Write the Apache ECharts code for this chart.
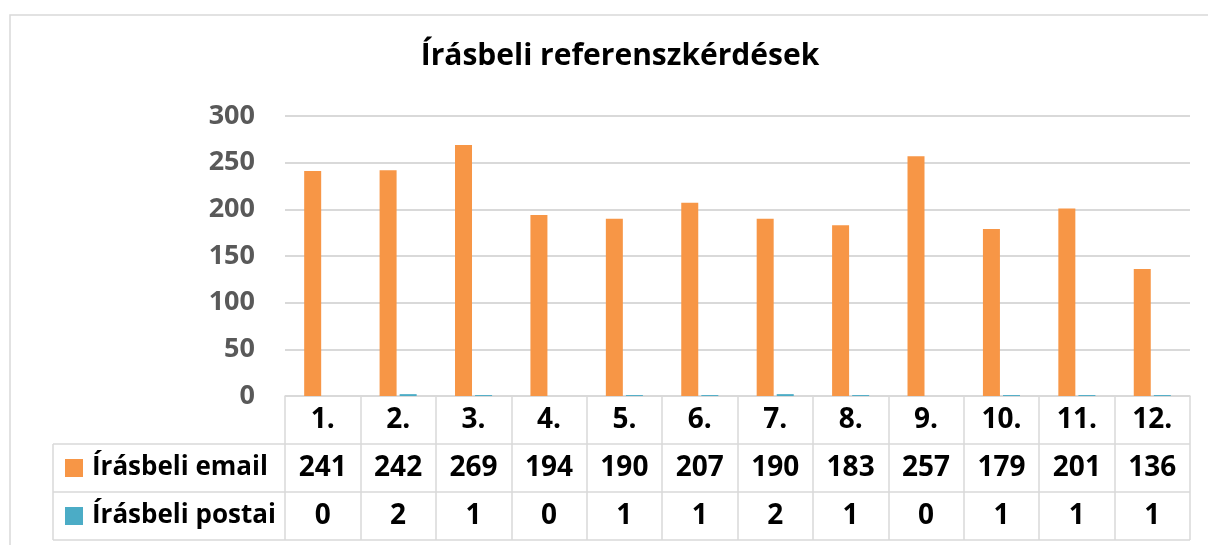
<!DOCTYPE html>
<html>
<head>
<meta charset="utf-8">
<title>Írásbeli referenszkérdések</title>
<script src="https://cdn.jsdelivr.net/npm/echarts@6/dist/echarts.min.js"></script>
<style>
  html, body { margin: 0; padding: 0; background: #fff; }
  #chart { width: 1208px; height: 545px; }
</style>
</head>
<body>
<div id="chart"></div>
<script>
// Monthly written reference questions, email vs. postal

const months = ['1.', '2.', '3.', '4.', '5.', '6.', '7.', '8.', '9.', '10.', '11.', '12.'];
const emailValues = [241, 242, 269, 194, 190, 207, 190, 183, 257, 179, 201, 136];
const postalValues = [0, 2, 1, 0, 1, 1, 2, 1, 0, 1, 1, 1];
const seriesNames = ['Írásbeli email', 'Írásbeli postai'];
const yTicks = { min: 0, max: 300, interval: 50 };

(function () {
  const el = document.getElementById('chart');
  const chart = echarts.init(el);

  const font = '"Open Sans", "DejaVu Sans", sans-serif';
  const gridColor = '#d9d9d9';

  // table geometry (px) - rows under the plot
  const plotLeft = 285, plotRight = 1190, axisY = 396, rowH = 48, tableLeft = 53;

  const tableLines = [];
  [axisY + rowH, axisY + 2 * rowH, axisY + 3 * rowH].forEach(y => {
    tableLines.push({ type: 'line', shape: { x1: tableLeft, y1: y, x2: plotRight, y2: y },
      style: { stroke: gridColor, lineWidth: 1.5 }, silent: true });
  });
  tableLines.push({ type: 'line', shape: { x1: tableLeft, y1: axisY + rowH, x2: tableLeft, y2: axisY + 3 * rowH },
    style: { stroke: gridColor, lineWidth: 1.5 }, silent: true });

  const cellText = { fontFamily: font, fontSize: 28, fontWeight: 'bold', color: '#000', lineHeight: rowH, height: rowH, verticalAlign: 'middle' };

  const option = {
    backgroundColor: '#fff',
    animation: false,
    title: {
      text: 'Írásbeli referenszkérdések',
      left: 615,
      top: 36,
      textAlign: 'center',
      textStyle: { fontFamily: font, fontSize: 30, fontWeight: 'bold', color: '#000' }
    },
    legend: {
      orient: 'vertical',
      left: 65,
      top: axisY + rowH,
      padding: 0,
      itemGap: 0,
      itemWidth: 18,
      itemHeight: 18,
      icon: 'rect',
      selectedMode: false,
      textStyle: { fontFamily: font, fontSize: 26, fontWeight: 'bold', color: '#000', lineHeight: rowH, padding: [0, 0, 0, 4] }
    },
    grid: {
      left: plotLeft,
      right: 1208 - plotRight,
      top: 116,
      bottom: 545 - axisY,
      containLabel: false
    },
    xAxis: {
      type: 'category',
      data: months,
      axisLine: { show: true, lineStyle: { color: gridColor, width: 1.5 } },
      axisTick: { show: true, length: rowH * 3, interval: 0, lineStyle: { color: gridColor, width: 1.5 } },
      axisLabel: {
        interval: 0,
        margin: 0,
        verticalAlign: 'top',
        formatter: (v, i) => `{c|${v}}\n{v|${emailValues[i]}}\n{v|${postalValues[i]}}`,
        rich: { c: cellText, v: cellText }
      }
    },
    yAxis: {
      type: 'value',
      min: yTicks.min,
      max: yTicks.max,
      interval: yTicks.interval,
      axisLine: { show: false },
      axisTick: { show: false },
      splitLine: { lineStyle: { color: gridColor, width: 2 } },
      axisLabel: { margin: 30, fontFamily: font, fontSize: 27, fontWeight: 'bold', color: '#595959' }
    },
    series: [
      {
        name: seriesNames[0],
        type: 'bar',
        data: emailValues,
        barWidth: 17,
        barGap: '18%',
        itemStyle: { color: '#f79646' }
      },
      {
        name: seriesNames[1],
        type: 'bar',
        data: postalValues,
        barWidth: 17,
        itemStyle: { color: '#4bacc6' }
      }
    ],
    graphic: [
      { type: 'rect', shape: { x: 10, y: 15, width: 1230, height: 560 },
        style: { fill: 'none', stroke: gridColor, lineWidth: 1.5 }, silent: true, z: -1 }
    ].concat(tableLines)
  };

  chart.setOption(option);
  window.addEventListener('resize', () => chart.resize());
})();
</script>
</body>
</html>
